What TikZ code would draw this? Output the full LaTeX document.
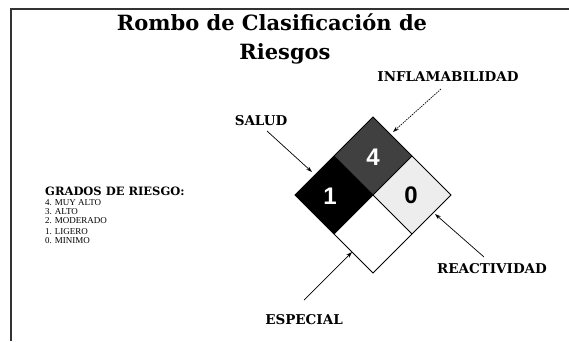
\documentclass[tikz,border=0pt]{standalone}
\usepackage{fontspec}
\setmainfont{Liberation Serif}
\newfontfamily\titlefont{DejaVu Serif}
\newfontfamily\numfont{Liberation Sans}
\usetikzlibrary{arrows.meta}
\tikzset{
  frameline/.style={line width=1.4pt, draw=black!80},
  quad/.style={draw=black, line width=0.9pt},
  lbl/.style={inner sep=0pt, font=\titlefont\bfseries\fontsize{13.5}{14}\selectfont},
  num/.style={inner sep=0pt, font=\numfont\bfseries\fontsize{24}{24}\selectfont},
  gradeitem/.style={inner sep=0pt, anchor=west, font=\fontsize{9}{9}\selectfont},
  pointer/.style={draw=black, line width=0.7pt, -{Stealth[length=6pt,width=4pt]}},
  dotpointer/.style={pointer, dash pattern=on 1.5pt off 1pt}
}
\begin{document}
\begin{tikzpicture}[x=1pt,y=-1pt]
\useasboundingbox (0,0) rectangle (569,341);
% frame
\draw[frameline] (10,9) -- (569,9);
\draw[frameline] (11,9) -- (11,341);
% title
\node[inner sep=0pt, anchor=base, font=\titlefont\bfseries\fontsize{21}{22}\selectfont] (t1) at (272,30.5) {Rombo de Clasificación de};
\node[inner sep=0pt, anchor=base, font=\titlefont\bfseries\fontsize{21}{22}\selectfont] (t2) at (285,59) {Riesgos};
% diamond coordinates
\coordinate (C) at (373,195);
\coordinate (T) at (373,117);
\coordinate (L) at (295,195);
\coordinate (R) at (451,195);
\coordinate (B) at (373,273);
\coordinate (TL) at (334,156);
\coordinate (TR) at (412,156);
\coordinate (BL) at (334,234);
\coordinate (BR) at (412,234);
% quadrants
\fill[black!75] (T) -- (TR) -- (C) -- (TL) -- cycle;
\fill[black] (TL) -- (C) -- (BL) -- (L) -- cycle;
\fill[black!7] (TR) -- (R) -- (BR) -- (C) -- cycle;
\fill[white] (C) -- (BR) -- (B) -- (BL) -- cycle;
\draw[quad] (T) -- (R) -- (B) -- (L) -- cycle;
\draw[quad] (TL) -- (BR);
\draw[quad] (TR) -- (BL);
% numbers
\node[num, text=white] (n4) at (373,157) {4};
\node[num, text=white] (n1) at (330,196) {1};
\node[num, text=black] (n0) at (411,195) {0};
% labels
\node[lbl] (infl) at (448,77) {INFLAMABILIDAD};
\node[lbl] (salud) at (261,121) {SALUD};
\node[lbl] (react) at (492,269) {REACTIVIDAD};
\node[lbl] (esp) at (304,320) {ESPECIAL};
% arrow ends
\coordinate (sInfl) at (441,89);
\coordinate (eInfl) at (393,132);
\coordinate (sSal) at (267,131);
\coordinate (eSal) at (312,172);
\coordinate (sReact) at (484,257);
\coordinate (eReact) at (435,214);
\coordinate (sEsp) at (304,300);
\coordinate (eEsp) at (352,252);
\draw[dotpointer] (sInfl) -- (eInfl);
\draw[pointer] (sSal) -- (eSal);
\draw[pointer] (sReact) -- (eReact);
\draw[pointer] (sEsp) -- (eEsp);
% grades
\node[inner sep=0pt, anchor=west, font=\titlefont\bfseries\fontsize{11.5}{12}\selectfont] (gh) at (45,191) {GRADOS DE RIESGO:};
\node[gradeitem] (g4) at (45,203) {4. MUY ALTO};
\node[gradeitem] (g3) at (45,212) {3. ALTO};
\node[gradeitem] (g2) at (45,221) {2. MODERADO};
\node[gradeitem] (g1) at (45,232) {1. LIGERO};
\node[gradeitem] (g0) at (45,241) {0. MINIMO};
\end{tikzpicture}
\end{document}
